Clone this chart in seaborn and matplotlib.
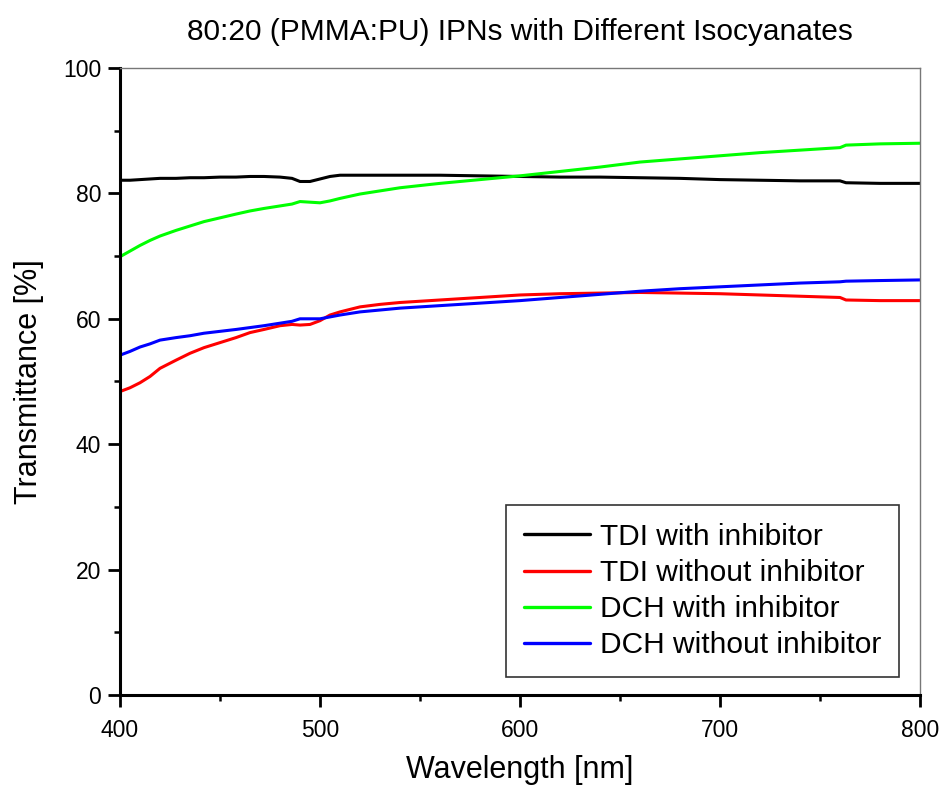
import matplotlib
matplotlib.use("Agg")
import matplotlib.pyplot as plt
import numpy as np
import pandas as pd
import seaborn as sns
from matplotlib.ticker import MultipleLocator

wavelength = [400, 405, 410, 415, 420, 428, 435, 442, 450, 458, 465, 472, 480, 486, 490, 495, 500,
              505, 510, 520, 530, 540, 560, 580, 600, 620, 640, 660, 680, 700, 720, 740, 760, 763,
              780, 800]

tdi_with = [82.1, 82.1, 82.2, 82.3, 82.4, 82.4, 82.5, 82.5, 82.6, 82.6, 82.7, 82.7, 82.6, 82.4,
            81.9, 81.9, 82.3, 82.7, 82.9, 82.9, 82.9, 82.9, 82.9, 82.8, 82.7, 82.6, 82.6, 82.5,
            82.4, 82.2, 82.1, 82.0, 82.0, 81.7, 81.6, 81.6]
tdi_without = [48.4, 49.0, 49.8, 50.8, 52.1, 53.4, 54.5, 55.4, 56.2, 57.0, 57.8, 58.3, 58.9, 59.1,
               59.0, 59.1, 59.7, 60.6, 61.1, 61.9, 62.3, 62.6, 63.0, 63.4, 63.8, 64.0, 64.1, 64.2,
               64.1, 64.0, 63.8, 63.6, 63.4, 63.0, 62.9, 62.9]
dch_with = [69.9, 70.8, 71.7, 72.5, 73.2, 74.1, 74.8, 75.5, 76.1, 76.7, 77.2, 77.6, 78.0, 78.3,
            78.7, 78.6, 78.5, 78.8, 79.2, 79.9, 80.4, 80.9, 81.6, 82.2, 82.8, 83.5, 84.2, 85.0,
            85.5, 86.0, 86.5, 86.9, 87.3, 87.7, 87.9, 88.0]
dch_without = [54.2, 54.8, 55.5, 56.0, 56.6, 57.0, 57.3, 57.7, 58.0, 58.3, 58.6, 58.9, 59.3, 59.6,
               60.0, 60.0, 60.0, 60.3, 60.6, 61.1, 61.4, 61.7, 62.1, 62.5, 62.9, 63.4, 63.9, 64.4,
               64.8, 65.1, 65.4, 65.7, 65.9, 66.0, 66.1, 66.2]

labels = ["TDI with inhibitor", "TDI without inhibitor", "DCH with inhibitor", "DCH without inhibitor"]
colors = ["#000000", "#ff0000", "#00ff00", "#0000ff"]

frames = []
for lab, vals in zip(labels, [tdi_with, tdi_without, dch_with, dch_without]):
    frames.append(pd.DataFrame({"wl": wavelength, "T": vals, "sample": lab}))
df = pd.concat(frames, ignore_index=True)

sns.set_style("white")
plt.rcParams["font.family"] = ["Liberation Sans", "DejaVu Sans"]
plt.rcParams.update({"text.color": "black", "axes.labelcolor": "black",
                     "xtick.color": "black", "ytick.color": "black"})

fig = plt.figure(figsize=(9.43, 7.88), dpi=100)
ax = fig.add_axes([120 / 943, 93 / 788, 800 / 943, 627 / 788])

sns.lineplot(data=df, x="wl", y="T", hue="sample", hue_order=labels,
             palette=colors, linewidth=2.2, ax=ax)

ax.set_xlim(400, 800)
ax.set_ylim(0, 100)
ax.xaxis.set_major_locator(MultipleLocator(100))
ax.xaxis.set_minor_locator(MultipleLocator(50))
ax.yaxis.set_major_locator(MultipleLocator(20))
ax.yaxis.set_minor_locator(MultipleLocator(10))
ax.tick_params(which="major", direction="out", length=8.5, width=2.0, labelsize=16.5,
               bottom=True, left=True, top=False, right=False, color="black", labelcolor="black")
ax.tick_params(axis="x", which="major", pad=9)
ax.tick_params(axis="y", which="major", pad=5)
ax.tick_params(which="minor", direction="out", length=4.5, width=1.8,
               bottom=True, left=True, top=False, right=False, color="black")

for s in ["left", "bottom"]:
    ax.spines[s].set_color("black")
    ax.spines[s].set_linewidth(2.2)
for s in ["top", "right"]:
    ax.spines[s].set_color("#777777")
    ax.spines[s].set_linewidth(1.0)

ax.set_xlabel("Wavelength [nm]", fontsize=22, labelpad=9, color="black")
ax.set_ylabel("Transmittance [%]", fontsize=22, labelpad=14, color="black")
ax.set_title("80:20 (PMMA:PU) IPNs with Different Isocyanates", fontsize=21.5, pad=20,
             color="black")

leg = ax.legend(loc="lower right", bbox_to_anchor=(0.974, 0.0287), fontsize=21.5,
                frameon=True, fancybox=False, edgecolor="black", handlelength=2.2,
                handletextpad=0.35, labelspacing=0.27, borderpad=0.6, borderaxespad=0.0)
leg.get_frame().set_linewidth(1.2)
for line in leg.get_lines():
    line.set_linewidth(2.4)
for t in leg.get_texts():
    t.set_color("black")

fig.savefig("out.png", dpi=100, facecolor="white")
